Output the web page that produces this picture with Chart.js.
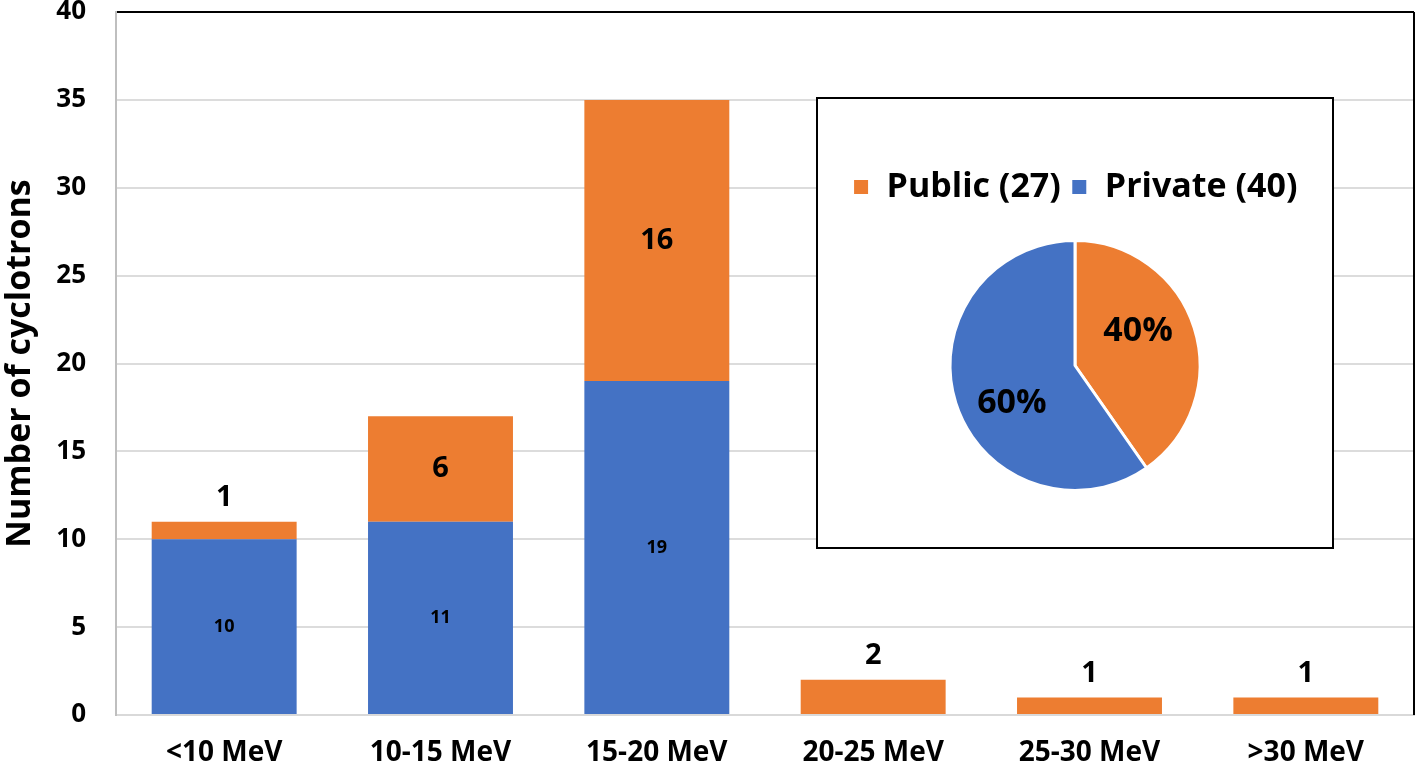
<!DOCTYPE html>
<html>
<head>
<meta charset="utf-8">
<script src="https://cdn.jsdelivr.net/npm/chart.js@4/dist/chart.umd.min.js"></script>
<style>
    body { margin: 0; background: #fff; }
    #wrap { position: relative; width: 1416px; height: 761px; }
    #inset {
        position: absolute; left: 816px; top: 97px; width: 518px; height: 452px;
        box-sizing: border-box; border: 2px solid #000; background: #fff;
    }
</style>
</head>
<body>
<div id="wrap">
    <canvas id="barChart" width="1416" height="761"></canvas>
    <div id="inset"><canvas id="pieChart" width="514" height="448"></canvas></div>
</div>
<script>
// Data
const categories = ['<10 MeV', '10-15 MeV', '15-20 MeV', '20-25 MeV', '25-30 MeV', '>30 MeV'];
const privateCounts = [10, 11, 19, 0, 0, 0];
const publicCounts = [1, 6, 16, 2, 1, 1];
const pieLabels = ['Public', 'Private'];
const pieCounts = [27, 40];

const BLUE = '#4472C4';
const ORANGE = '#ED7D31';
const FONT = "'Open Sans', 'Noto Sans', sans-serif";

// Value labels on stacked bars
const barLabels = {
    id: 'barLabels',
    afterDatasetsDraw(chart) {
        const ctx = chart.ctx;
        ctx.save();
        ctx.textAlign = 'center';
        ctx.textBaseline = 'middle';
        ctx.fillStyle = '#000';
        chart.data.datasets.forEach((ds, i) => {
            const meta = chart.getDatasetMeta(i);
            meta.data.forEach((bar, j) => {
                const v = ds.data[j];
                if (!v) return;
                const h = bar.base - bar.y;
                if (ds.label === 'Private') {
                    ctx.font = `bold 18px ${FONT}`;
                    ctx.fillText(v, bar.x, (bar.y + bar.base) / 2);
                } else {
                    ctx.font = `bold 29px ${FONT}`;
                    const y = h < 40 ? bar.y - 24 : (bar.y + bar.base) / 2;
                    ctx.fillText(v, bar.x, y);
                }
            });
        });
        ctx.restore();
    }
};

// Right edge line of the plot
const frameLine = {
    id: 'frameLine',
    afterDraw(chart) {
        const a = chart.chartArea;
        const ctx = chart.ctx;
        ctx.save();
        ctx.strokeStyle = '#000';
        ctx.lineWidth = 2;
        ctx.beginPath();
        ctx.moveTo(a.right, a.top);
        ctx.lineTo(a.right, a.bottom);
        ctx.stroke();
        ctx.restore();
    }
};

new Chart(document.getElementById('barChart'), {
    type: 'bar',
    data: {
        labels: categories,
        datasets: [
            { label: 'Private', data: privateCounts, backgroundColor: BLUE },
            { label: 'Public', data: publicCounts, backgroundColor: ORANGE }
        ]
    },
    options: {
        responsive: false,
        animation: false,
        devicePixelRatio: 1,
        barPercentage: 0.67,
        categoryPercentage: 1,
        layout: { padding: { top: 12, right: 2, left: 0, bottom: 0 } },
        plugins: { legend: { display: false }, tooltip: { enabled: false } },
        scales: {
            x: {
                stacked: true,
                grid: { display: false },
                border: { color: '#d9d9d9', width: 2 },
                ticks: { color: '#000', font: { family: FONT, size: 28, weight: 'bold' }, padding: 13, maxRotation: 0 },
                afterFit(scale) { scale.height = 46; scale.paddingLeft = 0; scale.paddingRight = 0; }
            },
            y: {
                stacked: true,
                min: 0,
                max: 40,
                ticks: { stepSize: 5, color: '#000', font: { family: FONT, size: 26, weight: 'bold' }, padding: 30 },
                grid: {
                    color: c => c.tick && c.tick.value === 40 ? '#000' : '#dcdcdc',
                    lineWidth: 2,
                    drawTicks: false
                },
                border: { color: '#bfbfbf', width: 2 },
                title: {
                    display: true,
                    text: 'Number of cyclotrons',
                    color: '#000',
                    font: { family: FONT, size: 34, weight: 'bold' },
                    padding: { top: 0, bottom: 0 }
                },
                afterFit(scale) { scale.width = 116; scale.paddingTop = 0; scale.paddingBottom = 0; }
            }
        }
    },
    plugins: [barLabels, frameLine]
});

// Percent labels on pie (placed a little counter-clockwise of the slice middle, like the original)
const pieLabelsPlugin = {
    id: 'pieLabels',
    afterDatasetsDraw(chart) {
        const ctx = chart.ctx;
        const data = chart.data.datasets[0].data;
        const total = data.reduce((a, b) => a + b, 0);
        ctx.save();
        ctx.textAlign = 'center';
        ctx.textBaseline = 'middle';
        ctx.fillStyle = '#000';
        ctx.font = `bold 34px ${FONT}`;
        chart.getDatasetMeta(0).data.forEach((arc, i) => {
            const mid = (arc.startAngle + arc.endAngle) / 2 - 0.21;
            const r = arc.outerRadius * 0.58;
            const pct = Math.round(data[i] / total * 100) + '%';
            ctx.fillText(pct, arc.x + Math.cos(mid) * r, arc.y + Math.sin(mid) * r + 2);
        });
        ctx.restore();
    }
};

new Chart(document.getElementById('pieChart'), {
    type: 'pie',
    data: {
        labels: pieLabels.map((l, i) => `${l} (${pieCounts[i]})`),
        datasets: [{
            data: pieCounts,
            backgroundColor: [ORANGE, BLUE],
            borderColor: '#fff',
            borderWidth: 3,
            radius: 125
        }]
    },
    options: {
        responsive: false,
        animation: false,
        devicePixelRatio: 1,
        layout: { padding: { top: 61, bottom: 30 } },
        plugins: {
            tooltip: { enabled: false },
            legend: {
                position: 'top',
                labels: {
                    color: '#000',
                    font: { family: FONT, size: 34, weight: 'bold' },
                    boxWidth: 17,
                    boxHeight: 17,
                    padding: 10
                }
            }
        }
    },
    plugins: [pieLabelsPlugin]
});
</script>
</body>
</html>
